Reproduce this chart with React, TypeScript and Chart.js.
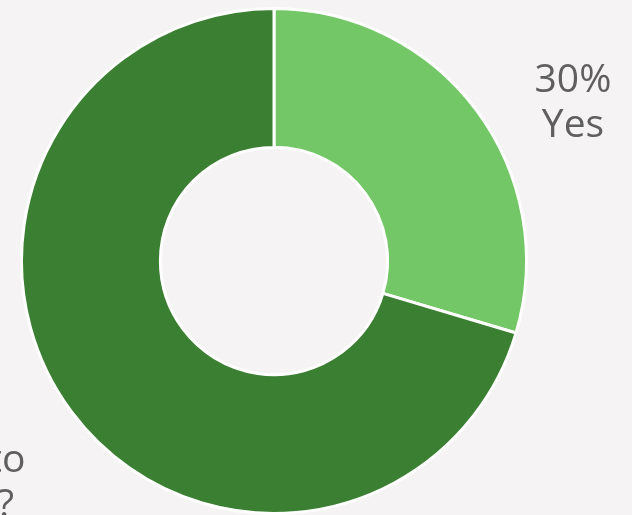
import React, { useEffect, useRef } from "react";
import { Chart, registerables } from "chart.js";

Chart.register(...registerables);

const categories = ["Yes", "No"];
const values = [29.6, 70.4];
const sliceColors = ["#73c767", "#3b7f32"];
const labelLines = [
  ["30%", "Yes"],
  ["70% No, but I'd love to", "How do I get started?"],
];

const LABEL_FONT = "39px 'Open Sans'";
const LABEL_COLOR = "#5f5f5f";
const LINE_HEIGHT = 45;
const LABEL_GAP = 76;
const BLOCK_SHIFT = 0.464;

const outsideLabels = {
  id: "outsideLabels",
  afterDraw(chart: any) {
    const ctx = chart.ctx;
    const meta = chart.getDatasetMeta(0);
    ctx.save();
    ctx.font = LABEL_FONT;
    ctx.fillStyle = LABEL_COLOR;
    ctx.textAlign = "center";
    ctx.textBaseline = "alphabetic";
    meta.data.forEach((arc: any, i: number) => {
      const p = arc.getProps(["x", "y", "startAngle", "endAngle", "outerRadius"], true);
      const mid = (p.startAngle + p.endAngle) / 2;
      const dx = Math.cos(mid);
      const dy = Math.sin(mid);
      const d = p.outerRadius + LABEL_GAP;
      const ax = p.x + dx * d;
      const ay = p.y + dy * (p.outerRadius + 65);
      const lines = labelLines[i];
      const w = Math.max(...lines.map((l) => ctx.measureText(l).width));
      const bx = dx >= 0 ? ax + w * BLOCK_SHIFT : ax - w * BLOCK_SHIFT;
      const first = ay + 21;
      lines.forEach((l, j) => ctx.fillText(l, bx, first + j * LINE_HEIGHT));
    });
    ctx.restore();
  },
};

export default function App() {
  const ref = useRef<HTMLCanvasElement | null>(null);
  useEffect(() => {
    if (!ref.current) return;
    const chart = new Chart(ref.current, {
      type: "doughnut",
      data: {
        labels: categories,
        datasets: [
          {
            data: values,
            backgroundColor: sliceColors,
            borderColor: "#ffffff",
            borderWidth: 3,
          },
        ],
      },
      options: {
        animation: false,
        responsive: true,
        maintainAspectRatio: false,
        cutout: "45%",
        layout: { padding: { top: 7, bottom: 0, left: 20, right: 104 } },
        plugins: {
          legend: { display: false },
          tooltip: { enabled: false },
        },
      },
      plugins: [outsideLabels],
    });
    return () => chart.destroy();
  }, []);
  return (
    <div
      style={{
        position: "fixed",
        left: 0,
        top: 0,
        width: 632,
        height: 515,
        background: "#f5f3f4",
      }}
    >
      <canvas ref={ref} />
    </div>
  );
}
